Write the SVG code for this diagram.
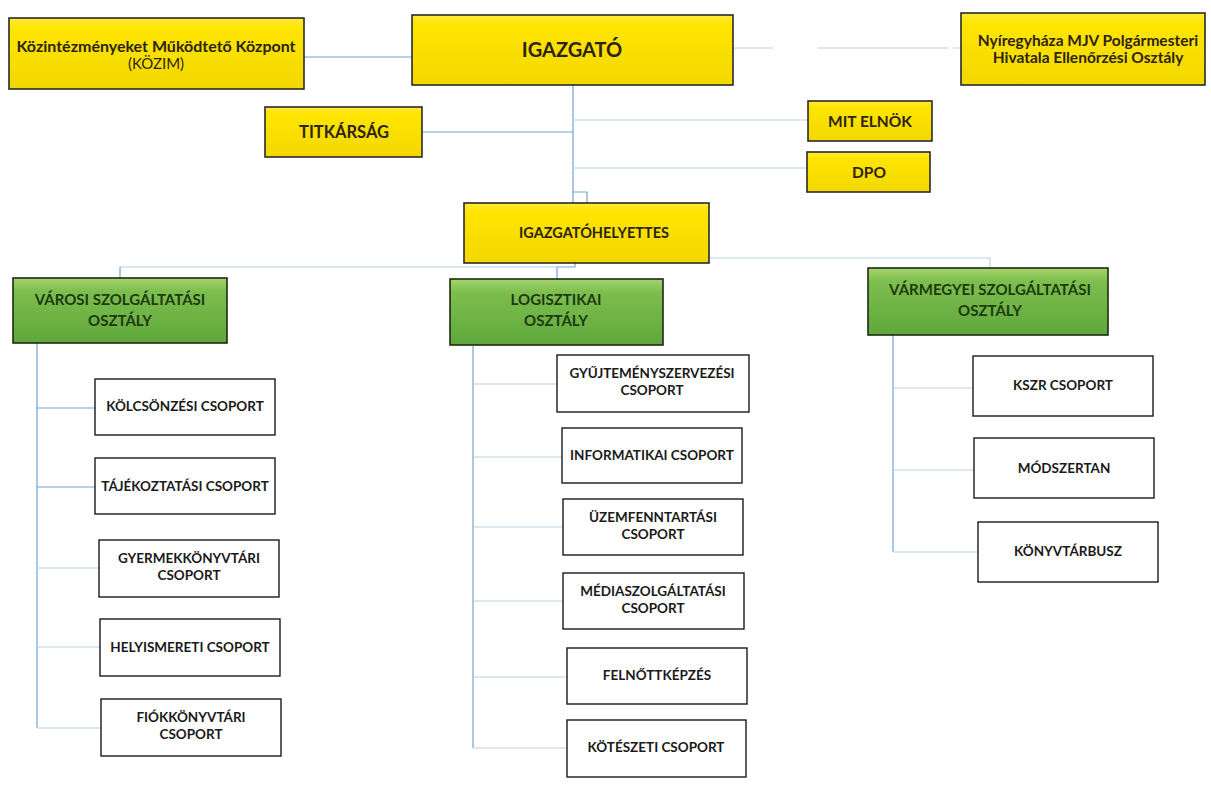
<svg xmlns="http://www.w3.org/2000/svg" width="1211" height="805" viewBox="0 0 1211 805">
<defs>
<linearGradient id="gy" x1="0" y1="0" x2="0" y2="1">
<stop offset="0" stop-color="#FFEA3A"/>
<stop offset="0.15" stop-color="#FFE500"/>
<stop offset="1" stop-color="#F2D800"/>
</linearGradient>
<linearGradient id="gg" x1="0" y1="0" x2="0" y2="1">
<stop offset="0" stop-color="#A6D46E"/>
<stop offset="0.2" stop-color="#7DBE4E"/>
<stop offset="1" stop-color="#5FA83C"/>
</linearGradient>
</defs>
<style>
.y{fill:url(#gy);stroke:#2a2a2a;stroke-width:1.6}
.g{fill:url(#gg);stroke:#1e2a14;stroke-width:1.6}
.w{fill:#fff;stroke:#1a1a1a;stroke-width:1.4}
text{font-family:Lato,"Liberation Sans",sans-serif;font-weight:bold;text-anchor:middle}
.ty{fill:#2d2410}
.tg{fill:#1d3a10;font-size:15px}
.tw{fill:#1a1a1a;font-size:13.5px}
.c{fill:none;stroke:#6fa3d6;stroke-width:1.2}
.cl{fill:none;stroke:#b9cfe6;stroke-width:1.2}
</style>
<rect width="1211" height="805" fill="#fff"/>
<g id="connectors">
<path class="c" d="M304 57H412"/>
<path class="cl" d="M733 48H961" stroke-dasharray="40 45 130 5"/>
<path class="c" d="M573 85V203"/>
<path class="c" d="M573 192H587V203"/>
<path class="c" d="M422 132H573"/>
<path class="cl" d="M573 120H808"/>
<path class="cl" d="M573 168H807"/>
<path class="c" d="M575 263V267H557V279"/>
<path class="cl" d="M120 267H575"/>
<path class="c" d="M120 267V278"/>
<path class="cl" d="M709 258H990V268"/>
<path class="c" d="M37 343V728"/>
<path class="c" d="M37 408H95M37 487H95"/>
<path class="cl" d="M37 568H99M37 647H100M37 728H101"/>
<path class="c" d="M473 346V748"/>
<path class="cl" d="M473 384H557M473 457H562M473 527H563M473 601H563M473 677H567M473 748H567"/>
<path class="c" d="M893 335V552"/>
<path class="cl" d="M893 388H973M893 470H974M893 552H978"/>
</g>
<g id="kozim"><rect class="y" x="9" y="18" width="295" height="71"/>
<text class="ty" x="156" y="52" font-size="16">Közintézményeket Működtető Központ</text>
<text class="ty" x="156" y="69" font-size="15" style="font-weight:normal">(KÖZIM)</text></g>
<g id="igazgato"><rect class="y" x="412" y="15" width="321" height="70"/>
<text class="ty" x="572" y="57" font-size="20">IGAZGATÓ</text></g>
<g id="nyiregyhaza"><rect class="y" x="961" y="13" width="244" height="72"/>
<text class="ty" x="1088" y="46" font-size="15.5">Nyíregyháza MJV Polgármesteri</text>
<text class="ty" x="1088" y="63" font-size="15.5">Hivatala Ellenőrzési Osztály</text></g>
<g id="titkarsag"><rect class="y" x="265" y="107" width="157" height="50"/>
<text class="ty" x="344" y="138" font-size="16.5">TITKÁRSÁG</text></g>
<g id="mit-elnok"><rect class="y" x="808" y="101" width="124" height="40"/>
<text class="ty" x="870" y="127" font-size="15.5">MIT ELNÖK</text></g>
<g id="dpo"><rect class="y" x="807" y="152" width="123" height="40"/>
<text class="ty" x="869" y="178" font-size="15.5">DPO</text></g>
<g id="igazgatohelyettes"><rect class="y" x="464" y="203" width="245" height="60"/>
<text class="ty" x="594" y="238" font-size="14.5">IGAZGATÓHELYETTES</text></g>
<g id="varosi"><rect class="g" x="13" y="278" width="214" height="65"/>
<text class="tg" x="120" y="305">VÁROSI SZOLGÁLTATÁSI</text>
<text class="tg" x="120" y="326">OSZTÁLY</text></g>
<g id="logisztikai"><rect class="g" x="450" y="279" width="213" height="66"/>
<text class="tg" x="556" y="305">LOGISZTIKAI</text>
<text class="tg" x="556" y="326">OSZTÁLY</text></g>
<g id="varmegyei"><rect class="g" x="868" y="268" width="240" height="67"/>
<text class="tg" x="990" y="295">VÁRMEGYEI SZOLGÁLTATÁSI</text>
<text class="tg" x="990" y="316">OSZTÁLY</text></g>
<g id="kolcsonzesi"><rect class="w" x="95" y="379" width="180" height="56"/>
<text class="tw" x="185" y="411">KÖLCSÖNZÉSI CSOPORT</text></g>
<g id="tajekoztatasi"><rect class="w" x="95" y="458" width="180" height="56"/>
<text class="tw" x="185" y="491">TÁJÉKOZTATÁSI CSOPORT</text></g>
<g id="gyermekkonyvtari"><rect class="w" x="99" y="540" width="180" height="57"/>
<text class="tw" x="189" y="563">GYERMEKKÖNYVTÁRI</text>
<text class="tw" x="189" y="580">CSOPORT</text></g>
<g id="helyismereti"><rect class="w" x="100" y="619" width="180" height="57"/>
<text class="tw" x="190" y="652">HELYISMERETI CSOPORT</text></g>
<g id="fiokkonyvtari"><rect class="w" x="101" y="699" width="180" height="57"/>
<text class="tw" x="191" y="722">FIÓKKÖNYVTÁRI</text>
<text class="tw" x="191" y="739">CSOPORT</text></g>
<g id="gyujtemeny"><rect class="w" x="557" y="355" width="192" height="57"/>
<text class="tw" x="652" y="378">GYŰJTEMÉNYSZERVEZÉSI</text>
<text class="tw" x="652" y="395">CSOPORT</text></g>
<g id="informatikai"><rect class="w" x="562" y="428" width="180" height="55"/>
<text class="tw" x="652" y="460">INFORMATIKAI CSOPORT</text></g>
<g id="uzemfenntartasi"><rect class="w" x="563" y="499" width="180" height="56"/>
<text class="tw" x="653" y="522">ÜZEMFENNTARTÁSI</text>
<text class="tw" x="653" y="539">CSOPORT</text></g>
<g id="mediaszolgaltatasi"><rect class="w" x="563" y="573" width="181" height="56"/>
<text class="tw" x="653" y="596">MÉDIASZOLGÁLTATÁSI</text>
<text class="tw" x="653" y="613">CSOPORT</text></g>
<g id="felnottkepzes"><rect class="w" x="567" y="648" width="180" height="56"/>
<text class="tw" x="657" y="680">FELNŐTTKÉPZÉS</text></g>
<g id="koteszeti"><rect class="w" x="567" y="720" width="179" height="57"/>
<text class="tw" x="656" y="752">KÖTÉSZETI CSOPORT</text></g>
<g id="kszr"><rect class="w" x="973" y="356" width="180" height="60"/>
<text class="tw" x="1063" y="390">KSZR CSOPORT</text></g>
<g id="modszertan"><rect class="w" x="974" y="438" width="180" height="60"/>
<text class="tw" x="1064" y="473">MÓDSZERTAN</text></g>
<g id="konyvtarbusz"><rect class="w" x="978" y="522" width="180" height="60"/>
<text class="tw" x="1068" y="556">KÖNYVTÁRBUSZ</text></g>
</svg>
